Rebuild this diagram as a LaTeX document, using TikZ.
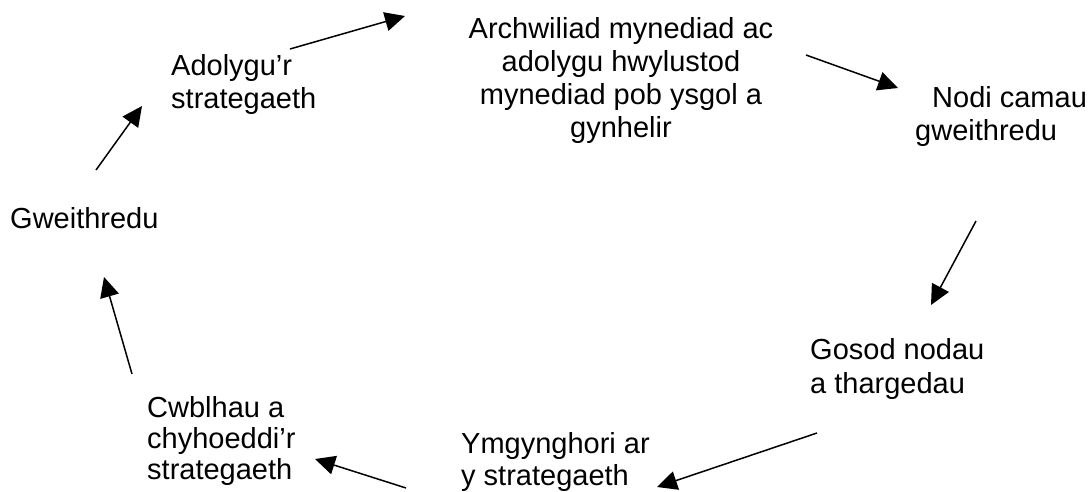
\documentclass[tikz,border=0pt]{standalone}
\usepackage{fontspec}
\setmainfont{Liberation Sans}
\usetikzlibrary{arrows.meta}
\newcommand{\txtblk}[2]{\begin{tabular}[t]{@{}#1@{}}#2\end{tabular}}
\begin{document}
\begin{tikzpicture}[x=1pt,y=-1pt,
  lbl/.style={inner sep=0pt, anchor=base west, font=\fontsize{29}{33}\selectfont},
  flow/.style={line width=1.5pt, -{Triangle[length=20pt,width=19pt]}}]
\path[use as bounding box] (0,0) rectangle (1090,491);

% text blocks
\node[lbl, anchor=base] (arch) at (621,38) {\txtblk{c}{Archwiliad mynediad ac\\adolygu hwylustod\\mynediad pob ysgol a\\gynhelir}};
\node[lbl] (nodi) at (915,107) {\txtblk{l}{\hspace*{17pt}Nodi camau\\gweithredu}};
\node[lbl, font=\fontsize{29}{34}\selectfont] (gosod) at (810,359) {\txtblk{l}{Gosod nodau\\a thargedau}};
\node[lbl, font=\fontsize{29}{32}\selectfont] (ymgy) at (461,453) {\txtblk{l}{Ymgynghori ar\\y strategaeth}};
\node[lbl, font=\fontsize{29}{31}\selectfont] (cwbl) at (147,417) {\txtblk{l}{Cwblhau a\\chyhoeddi’r\\strategaeth}};
\node[lbl] (gwei) at (10,228) {Gweithredu};
\node[lbl] (adol) at (171,75) {\txtblk{l}{Adolygu’r\\strategaeth}};

% connector end points
\coordinate (a1s) at (290,49);  \coordinate (a1e) at (405,16);
\coordinate (a2s) at (806,55);  \coordinate (a2e) at (898,88);
\coordinate (a3s) at (976,221); \coordinate (a3e) at (931,305);
\coordinate (a4s) at (817,433); \coordinate (a4e) at (657,487);
\coordinate (a5s) at (406,488); \coordinate (a5e) at (315,459);
\coordinate (a6s) at (132,374); \coordinate (a6e) at (104,277);
\coordinate (a7s) at (96,170);  \coordinate (a7e) at (142,106);

\draw[flow] (a1s) -- (a1e);
\draw[flow] (a2s) -- (a2e);
\draw[flow] (a3s) -- (a3e);
\draw[flow] (a4s) -- (a4e);
\draw[flow] (a5s) -- (a5e);
\draw[flow] (a6s) -- (a6e);
\draw[flow] (a7s) -- (a7e);
\end{tikzpicture}
\end{document}
